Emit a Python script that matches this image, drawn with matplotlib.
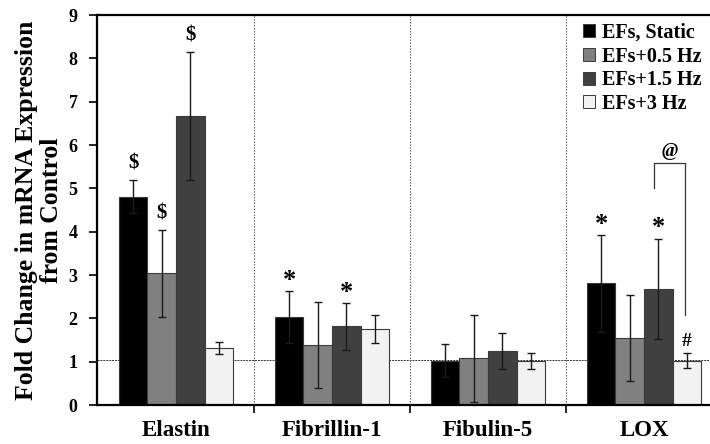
import matplotlib
matplotlib.use("Agg")
import matplotlib.pyplot as plt
import numpy as np
from matplotlib.patches import Patch

plt.rcParams['font.family'] = ['Liberation Serif', 'DejaVu Serif']
plt.rcParams['font.weight'] = 'bold'

genes = ["Elastin", "Fibrillin-1", "Fibulin-5", "LOX"]
series_names = ["EFs, Static", "EFs+0.5 Hz", "EFs+1.5 Hz", "EFs+3 Hz"]
series_colors = ["#000000", "#808080", "#404040", "#f2f2f2"]

static_mean = [4.81, 2.02, 1.02, 2.81]
static_err = [0.38, 0.60, 0.38, 1.12]
hz05_mean = [3.04, 1.38, 1.08, 1.55]
hz05_err = [1.00, 0.99, 1.00, 1.00]
hz15_mean = [6.67, 1.82, 1.25, 2.68]
hz15_err = [1.47, 0.54, 0.42, 1.16]
hz3_mean = [1.31, 1.75, 1.02, 1.02]
hz3_err = [0.14, 0.32, 0.19, 0.17]

means = [static_mean, hz05_mean, hz15_mean, hz3_mean]
errs = [static_err, hz05_err, hz15_err, hz3_err]

# significance markers: (gene index, series index, symbol)
sig_marks = [(0, 0, "$"), (0, 1, "$"), (0, 2, "$"),
             (1, 0, "*"), (1, 2, "*"),
             (3, 0, "*"), (3, 2, "*"), (3, 3, "#")]

baseline = 1.05

fig = plt.figure(figsize=(7.1, 4.44), dpi=100)
ax = fig.add_axes([97/710, 39/444, 626/710, 390/444])

x = np.arange(len(genes))
w = 0.183
offsets = (np.arange(4) - 1.5) * w

for s in range(4):
    ax.bar(x + offsets[s], means[s], width=w, color=series_colors[s],
           edgecolor="#3a3a3a", linewidth=0.8, zorder=2, label=series_names[s])
    ax.errorbar(x + offsets[s], means[s], yerr=errs[s], fmt="none",
                ecolor="#1a1a1a", elinewidth=1.0, capsize=3, capthick=1.0,
                zorder=3)

for g, s, sym in sig_marks:
    top = means[s][g] + errs[s][g]
    if sym == "$":
        dy, fs = 0.15, 15
    elif sym == "*":
        dy, fs = -0.02, 19
    else:
        dy, fs = 0.08, 14
    ax.text(x[g] + offsets[s], top + dy, sym, ha="center", va="bottom",
            fontsize=fs, fontweight="bold", zorder=4)

# bracket between 1.5 Hz and 3 Hz for LOX
xl = x[3] + offsets[2] - 0.03
xr = x[3] + offsets[3] - 0.01
ax.plot([xl, xl, xr, xr], [5.0, 5.58, 5.58, 2.08], color="#333333",
        linewidth=0.9, zorder=4)
ax.text((xl + xr) / 2, 5.66, "@", ha="center", va="bottom", fontsize=14,
        fontweight="bold", fontstyle="italic", zorder=4)

# reference line and group separators
ax.axhline(baseline, color="#333333", linestyle=(0, (2, 1)), linewidth=0.7,
           zorder=1)
for b in [0.5, 1.5, 2.5]:
    ax.axvline(b, color="#555555", linestyle=(0, (1.5, 1.5)), linewidth=0.7,
               zorder=1)

ax.set_xlim(-0.506, 3.506)
ax.set_ylim(0, 9)
ax.set_yticks(range(0, 10))
ax.tick_params(axis="y", direction="out", length=6, width=1.2, pad=8,
               labelsize=13)
ax.set_xticks([0.5, 1.5, 2.5])
ax.set_xticklabels([])
ax.tick_params(axis="x", which="major", direction="out", length=6, width=1.2)
ax.set_xticks(x, minor=True)
ax.set_xticklabels(genes, minor=True, fontsize=16.5, fontweight="bold")
ax.tick_params(axis="x", which="minor", length=0, pad=11)
for lab in ax.get_yticklabels():
    lab.set_fontweight("bold")

for side in ["top", "bottom", "left", "right"]:
    ax.spines[side].set_linewidth(1.6)

ax.set_ylabel("Fold Change in mRNA Expression\nfrom Control", fontsize=18.5,
              fontweight="bold", linespacing=1.12, labelpad=4)

handles = [Patch(facecolor=c, edgecolor="#3a3a3a", linewidth=0.7)
           for c in series_colors]
fig.legend(handles, series_names, loc="upper left",
           bbox_to_anchor=(583/710, 1 - 23/444), frameon=False,
           handlelength=0.62, handleheight=0.62,
           handletextpad=0.3, labelspacing=0.18, borderaxespad=0,
           borderpad=0, prop={"weight": "bold", "size": 14.5})

fig.savefig("out.png", dpi=100)
